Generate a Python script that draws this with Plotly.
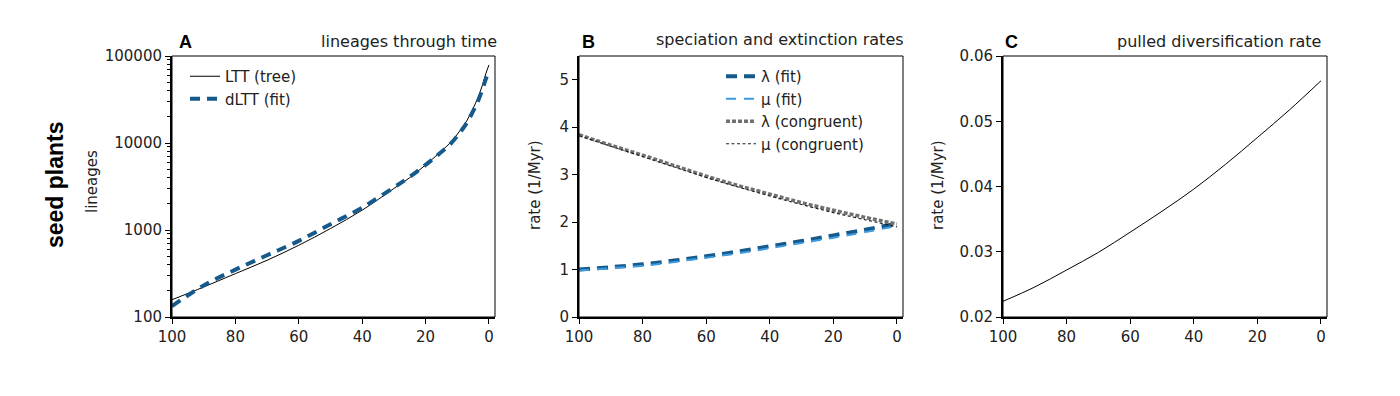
import plotly.graph_objects as go

W, H = 1400, 396

# ---------------- data ----------------
t_ltt = [100, 90, 80, 70, 60, 50, 40, 30, 25, 20, 16, 12, 9, 7, 5, 3.5, 2, 1, 0]
ltt_tree = [158, 221, 315, 449, 668, 1040, 1690, 3000, 4000, 5600, 7500, 10250, 14100, 18000, 25000, 33100, 47000, 62500, 79000]
dltt_fit = [133, 231, 350, 513, 750, 1165, 1810, 3080, 4080, 5600, 7350, 9900, 13450, 17000, 23250, 30100, 41800, 54400, 66400]

t_rate = [100, 90, 80, 70, 60, 50, 40, 30, 20, 10, 0]
lambda_fit = [1.00, 1.05, 1.11, 1.19, 1.28, 1.38, 1.49, 1.60, 1.72, 1.84, 1.97]
mu_fit = [0.98, 1.03, 1.08, 1.16, 1.25, 1.34, 1.45, 1.56, 1.67, 1.79, 1.92]
lambda_cong = [3.84, 3.62, 3.41, 3.19, 2.97, 2.77, 2.59, 2.41, 2.25, 2.10, 1.96]
mu_cong = [3.82, 3.60, 3.38, 3.16, 2.94, 2.74, 2.55, 2.37, 2.20, 2.05, 1.90]
pdr = [0.0224, 0.0246, 0.0272, 0.0299, 0.0330, 0.0362, 0.0396, 0.0434, 0.0475, 0.0517, 0.0562]

x_ticks = [100, 80, 60, 40, 20, 0]
a_yticks = [100, 1000, 10000, 100000]
a_yticklabels = ["100", "1000", "10000", "100000"]
b_yticks = [0, 1, 2, 3, 4, 5]
c_yticks = [0.02, 0.03, 0.04, 0.05, 0.06]
c_yticklabels = ["0.02", "0.03", "0.04", "0.05", "0.06"]

# ---------------- layout geometry ----------------
OFF = 8  # page body offset


def px_x(p):
    return (p - OFF) / W


def px_y(p):
    return 1 - (p - OFF) / H


panels = {
    "A": (172, 495),
    "B": (579, 903),
    "C": (1003, 1327),
}
top, bottom = 56, 317

DARK = "#165a8c"
LIGHT = "#3c9be0"
GRAY = "#707070"
FONT = "DejaVu Sans"
BOLD = "Liberation Sans"
TXT = "#222222"

fig = go.Figure()

# Panel A
fig.add_trace(go.Scatter(x=t_ltt, y=ltt_tree, mode="lines", name="LTT (tree)",
                         line=dict(color="black", width=1, shape="spline", smoothing=1.0),
                         xaxis="x", yaxis="y", legend="legend"))
fig.add_trace(go.Scatter(x=t_ltt, y=dltt_fit, mode="lines", name="dLTT (fit)",
                         line=dict(color=DARK, width=4, dash="10px,7px", shape="spline", smoothing=1.0),
                         xaxis="x", yaxis="y", legend="legend"))

# Panel B
fig.add_trace(go.Scatter(x=t_rate, y=lambda_fit, mode="lines", name="λ (fit)",
                         line=dict(color=DARK, width=4, dash="11px,7px", shape="spline"),
                         xaxis="x2", yaxis="y2", legend="legend2"))
fig.add_trace(go.Scatter(x=t_rate, y=mu_fit, mode="lines", name="μ (fit)",
                         line=dict(color=LIGHT, width=2, dash="10px,8px", shape="spline"),
                         xaxis="x2", yaxis="y2", legend="legend2"))
fig.add_trace(go.Scatter(x=t_rate, y=lambda_cong, mode="lines", name="λ (congruent)",
                         line=dict(color=GRAY, width=3.5, dash="4px,2px", shape="spline"),
                         xaxis="x2", yaxis="y2", legend="legend2"))
fig.add_trace(go.Scatter(x=t_rate, y=mu_cong, mode="lines", name="μ (congruent)",
                         line=dict(color="#222222", width=1.2, dash="3px,2.5px", shape="spline"),
                         xaxis="x2", yaxis="y2", legend="legend2"))

# Panel C
fig.add_trace(go.Scatter(x=t_rate, y=pdr, mode="lines", name="pulled diversification rate",
                         line=dict(color="black", width=1, shape="spline"),
                         xaxis="x3", yaxis="y3", showlegend=False))

tickfont = dict(family=FONT, size=15, color=TXT)


def xaxis(name, dom):
    return dict(
        domain=[px_x(dom[0]), px_x(dom[1])],
        range=[100, -1.9],
        tickvals=x_ticks,
        ticks="outside", ticklen=5, tickwidth=1, tickcolor="black",
        showline=True, linecolor="black", linewidth=2,
        showgrid=False, zeroline=False, automargin=False,
        tickfont=tickfont,
        anchor=name,
        fixedrange=True,
    )


ydom = [px_y(bottom), px_y(top)]
common_y = dict(
    ticks="outside", ticklen=5, tickwidth=1, tickcolor="black",
    showline=True, linecolor="black", linewidth=2,
    showgrid=False, zeroline=False, tickfont=tickfont, automargin=False,
    fixedrange=True,
)

layout = dict(
    width=W, height=H,
    margin=dict(l=0, r=0, t=0, b=0, autoexpand=False),
    paper_bgcolor="white", plot_bgcolor="white",
    font=dict(family=FONT, size=15, color=TXT),
    xaxis=xaxis("y", panels["A"]),
    xaxis2=xaxis("y2", panels["B"]),
    xaxis3=xaxis("y3", panels["C"]),
    yaxis=dict(
        domain=ydom, type="log", range=[2, 5], anchor="x",
        tickvals=a_yticks, ticktext=a_yticklabels,
        minor=dict(ticks="outside", ticklen=3, tickwidth=1, tickcolor="black", dtick="D1", showgrid=False),
        **common_y,
    ),
    yaxis2=dict(domain=ydom, range=[0, 5.5], anchor="x2", tickvals=b_yticks, **common_y),
    yaxis3=dict(domain=ydom, range=[0.02, 0.06], anchor="x3",
                tickvals=c_yticks, ticktext=c_yticklabels, **common_y),
    legend=dict(
        x=px_x(185), y=px_y(60), xanchor="left", yanchor="top",
        bgcolor="rgba(0,0,0,0)", font=dict(family=FONT, size=15, color=TXT),
        itemwidth=30, tracegroupgap=0,
    ),
    legend2=dict(
        x=px_x(721), y=px_y(60), xanchor="left", yanchor="top",
        bgcolor="rgba(0,0,0,0)", font=dict(family=FONT, size=15, color=TXT),
        itemwidth=30, tracegroupgap=0,
    ),
    showlegend=True,
)
fig.update_layout(**layout)

# thin frame on top/right of each panel
for i, key in enumerate(["A", "B", "C"]):
    suffix = "" if i == 0 else str(i + 1)
    fig.add_shape(type="rect", xref=f"x{suffix} domain", yref=f"y{suffix} domain",
                  x0=0, x1=1, y0=0, y1=1, line=dict(color="black", width=1), layer="above")

annotations = [
    # panel letters
    dict(text="<b>A</b>", x=px_x(177), y=px_y(42), xanchor="left", yanchor="middle",
         font=dict(family=BOLD, size=18, color="black")),
    dict(text="<b>B</b>", x=px_x(580), y=px_y(42), xanchor="left", yanchor="middle",
         font=dict(family=BOLD, size=18, color="black")),
    dict(text="<b>C</b>", x=px_x(1003), y=px_y(42), xanchor="left", yanchor="middle",
         font=dict(family=BOLD, size=18, color="black")),
    # panel titles
    dict(text="lineages through time", x=px_x(499), y=px_y(41), xanchor="right", yanchor="middle",
         font=dict(family=FONT, size=16, color=TXT)),
    dict(text="speciation and extinction rates", x=px_x(906), y=px_y(40), xanchor="right", yanchor="middle",
         font=dict(family=FONT, size=16, color=TXT)),
    dict(text="pulled diversification rate", x=px_x(1323), y=px_y(41), xanchor="right", yanchor="middle",
         font=dict(family=FONT, size=16, color=TXT)),
    # y titles
    dict(text="lineages", x=px_x(92), y=px_y(182), xanchor="center", yanchor="middle", textangle=-90,
         font=dict(family=FONT, size=15, color=TXT)),
    dict(text="rate (1/Myr)", x=px_x(535), y=px_y(185), xanchor="center", yanchor="middle", textangle=-90,
         font=dict(family=FONT, size=15, color=TXT)),
    dict(text="rate (1/Myr)", x=px_x(938), y=px_y(185), xanchor="center", yanchor="middle", textangle=-90,
         font=dict(family=FONT, size=15, color=TXT)),
    # row label
    dict(text="<b>seed plants</b>", x=px_x(55), y=px_y(185), xanchor="center", yanchor="middle", textangle=-90,
         font=dict(family=BOLD, size=23, color="black")),
]
for a in annotations:
    a.update(xref="paper", yref="paper", showarrow=False)
fig.update_layout(annotations=annotations)

fig.write_html("out.html")
